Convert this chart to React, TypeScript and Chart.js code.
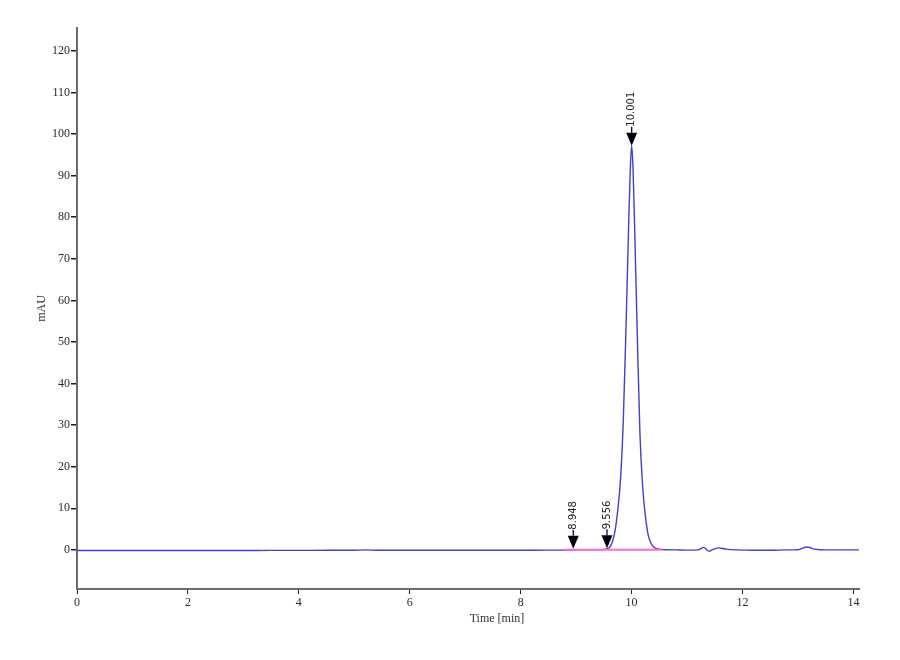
import React, { useEffect, useRef } from "react";
import { Chart, registerables } from "chart.js";

Chart.register(...registerables);

// Chromatogram trace (time in minutes, signal in mAU)
const timeMin = [
  0, 0.5, 1, 1.5, 2, 2.5, 3, 3.5, 4, 4.5,
  5, 5.2, 5.4, 6, 6.5, 7, 7.5, 8, 8.5, 8.8,
  9, 9.2, 9.4, 9.5, 9.55, 9.6, 9.65, 9.7, 9.75, 9.8,
  9.85, 9.9, 9.95, 9.975, 10, 10.025, 10.05, 10.1, 10.15, 10.2,
  10.25, 10.3, 10.35, 10.4, 10.45, 10.5, 10.6, 10.8, 11, 11.2,
  11.3, 11.39, 11.48, 11.57, 11.7, 11.9, 12.2, 12.5, 12.8, 13.0,
  13.16, 13.3, 13.5, 13.8, 14.13,
];
const signalMAU = [
  -0.15, -0.15, -0.15, -0.15, -0.15, -0.15, -0.15, -0.12, -0.12, -0.1,
  -0.08, 0.0, -0.08, -0.1, -0.1, -0.1, -0.08, -0.08, -0.05, -0.05,
  0.0, 0.0, 0.05, 0.1, 0.3, 0.6, 1.8, 4.5, 9.5, 17,
  31, 54, 80, 91, 97.2, 92, 80, 53, 28, 15,
  8, 3.5, 1.6, 0.7, 0.3, 0.15, 0.05, 0.0, -0.05, 0.0,
  0.6, -0.3, 0.2, 0.5, 0.2, 0.0, -0.1, -0.1, 0.0, 0.05,
  0.7, 0.2, 0.0, 0.0, 0.0,
];

// Integration baseline (pink)
const baselineTime = [8.78, 10.55];
const baselineValue = [0.05, 0.05];

// Peak markers
const peakTimes = [8.948, 9.556, 10.001];
const peakHeights = [0.3, 0.4, 97.2];
const peakLabels = ["8.948", "9.556", "10.001"];

// Axes
const xMin = 0;
const xMax = 14.1;
const xStep = 2;
const yMin = -9.4;
const yMax = 125.5;
const yStep = 10;
const xTitle = "Time [min]";
const yTitle = "mAU";

const SERIF = '"Liberation Serif", "Times New Roman", serif';

export default function App() {
  const canvasRef = useRef<HTMLCanvasElement | null>(null);

  useEffect(() => {
    const canvas = canvasRef.current;
    if (!canvas) return;

    const peakPlugin = {
      id: "peakMarkers",
      afterDatasetsDraw(chart: any) {
        const { ctx, scales } = chart;
        const xs = scales.x;
        const ys = scales.y;
        ctx.save();
        for (let i = 0; i < peakTimes.length; i++) {
          const px = xs.getPixelForValue(peakTimes[i]);
          const py = ys.getPixelForValue(peakHeights[i]);
          const triH = 13;
          const triW = 5.5;
          ctx.fillStyle = "#000010";
          ctx.beginPath();
          ctx.moveTo(px, py);
          ctx.lineTo(px - triW, py - triH);
          ctx.lineTo(px + triW, py - triH);
          ctx.closePath();
          ctx.fill();
          ctx.strokeStyle = "#000044";
          ctx.lineWidth = 1.3;
          ctx.beginPath();
          ctx.moveTo(px, py - triH);
          ctx.lineTo(px, py - triH - 6);
          ctx.stroke();
          ctx.save();
          ctx.translate(px, py - triH - 6);
          ctx.rotate(-Math.PI / 2);
          ctx.font = '10px "DejaVu Sans", sans-serif';
          ctx.fillStyle = "#222";
          ctx.textAlign = "left";
          ctx.textBaseline = "middle";
          ctx.fillText(peakLabels[i], 0, 0);
          ctx.restore();
        }
        ctx.restore();
      },
      afterDraw(chart: any) {
        const { ctx, chartArea } = chart;
        ctx.save();
        ctx.font = "12px " + SERIF;
        ctx.fillStyle = "#333";
        ctx.textAlign = "center";
        ctx.textBaseline = "middle";
        const tx = chartArea.left + (chartArea.right - chartArea.left) * 0.537;
        ctx.fillText(xTitle, tx, chartArea.bottom + 30);
        ctx.save();
        ctx.translate(chartArea.left - 35, (chartArea.top + chartArea.bottom) / 2);
        ctx.rotate(-Math.PI / 2);
        ctx.fillText(yTitle, 0, 0);
        ctx.restore();
        ctx.restore();
      },
    };

    const chart = new Chart(canvas, {
      type: "line",
      data: {
        datasets: [
          {
            label: "baseline",
            data: baselineTime.map((t, i) => ({ x: t, y: baselineValue[i] })),
            borderColor: "#ff70c0",
            borderWidth: 2,
            pointRadius: 0,
            fill: false,
          },
          {
            label: "signal",
            data: timeMin.map((t, i) => ({ x: t, y: signalMAU[i] })),
            borderColor: "#4040cc",
            borderWidth: 1.4,
            pointRadius: 0,
            fill: false,
            cubicInterpolationMode: "monotone",
          },
        ],
      },
      options: {
        responsive: false,
        animation: false,
        layout: { padding: { left: 0, top: 28, right: 41, bottom: 0 } },
        plugins: {
          legend: { display: false },
          tooltip: { enabled: false },
        },
        scales: {
          x: {
            type: "linear",
            min: xMin,
            max: xMax,
            afterFit(scale: any) {
              scale.height = 71;
            },
            grid: {
              display: true,
              drawOnChartArea: false,
              drawTicks: true,
              tickLength: 5,
              color: "#222",
              lineWidth: 1,
            },
            border: { display: true, color: "#6b6b6b", width: 2 },
            ticks: {
              stepSize: xStep,
              includeBounds: false,
              padding: 2,
              color: "#2a2a2a",
              font: { family: SERIF, size: 12 },
              maxRotation: 0,
            },
          },
          y: {
            type: "linear",
            min: yMin,
            max: yMax,
            afterFit(scale: any) {
              scale.width = 77;
            },
            grid: {
              display: true,
              drawOnChartArea: false,
              drawTicks: true,
              tickLength: 6,
              color: "#1a1a33",
              lineWidth: 1.5,
            },
            border: { display: true, color: "#6b6b6b", width: 2 },
            ticks: {
              stepSize: yStep,
              includeBounds: false,
              padding: 1,
              color: "#2a2a2a",
              font: { family: SERIF, size: 12 },
            },
          },
        },
      },
      plugins: [peakPlugin],
    } as any);

    return () => chart.destroy();
  }, []);

  return (
    <div style={{ position: "fixed", left: 0, top: 0, width: 900, height: 660, background: "#fff" }}>
      <canvas ref={canvasRef} width={900} height={660} />
    </div>
  );
}
